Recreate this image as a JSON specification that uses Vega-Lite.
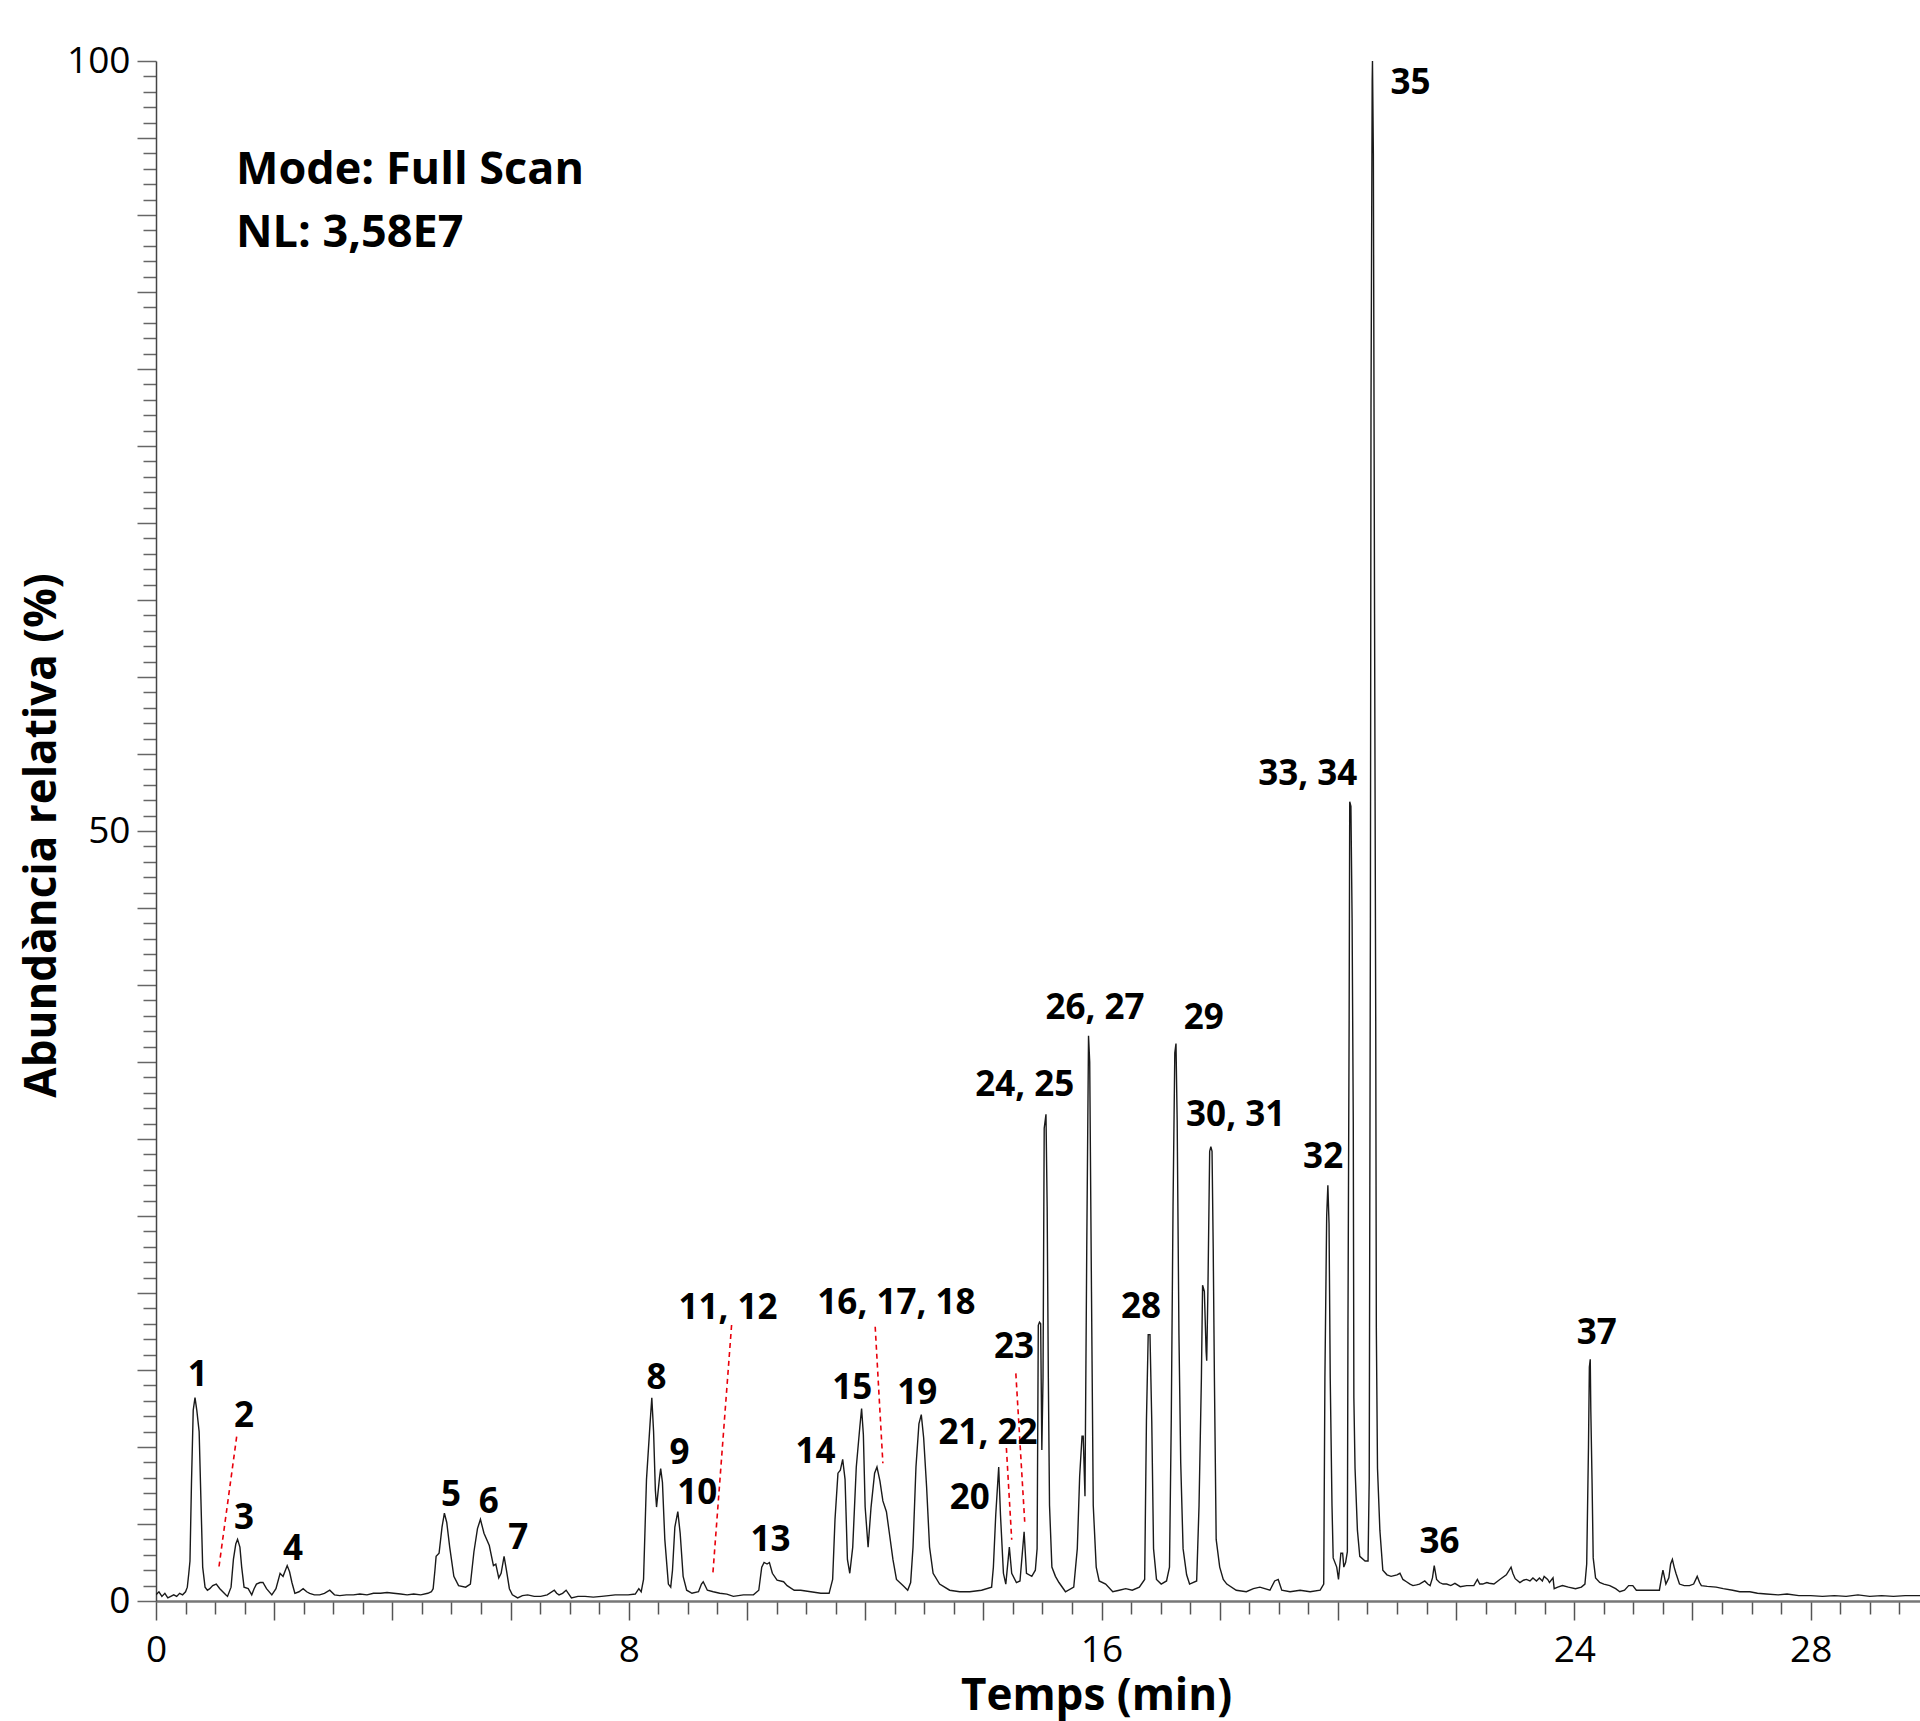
{
 "$schema": "https://vega.github.io/schema/vega-lite/v6.json",
 "width": 1764,
 "height": 1540,
 "autosize": {"type": "none"},
 "padding": {"left": 156, "top": 61, "right": 0, "bottom": 120},
 "background": "white",
 "config": {"view": {"stroke": null}},
 "datasets": {
  "trace": [
   {"t":0.00,"v":0.4},{"t":0.05,"v":0.6},{"t":0.10,"v":0.3},{"t":0.15,"v":0.5},{"t":0.20,"v":0.2},{"t":0.25,"v":0.3},{"t":0.30,"v":0.4},{"t":0.35,"v":0.3},{"t":0.40,"v":0.5},{"t":0.45,"v":0.4},{"t":0.50,"v":0.6},{"t":0.53,"v":0.9},
   {"t":0.555,"v":1.8},{"t":0.575,"v":2.6},{"t":0.60,"v":7.6},{"t":0.63,"v":12.4},{"t":0.66,"v":13.2},{"t":0.69,"v":12.4},{"t":0.73,"v":11.0},{"t":0.76,"v":6.6},{"t":0.79,"v":2.2},{"t":0.83,"v":0.9},{"t":0.87,"v":0.7},{"t":0.91,"v":0.8},{"t":0.96,"v":1.0},{"t":1.02,"v":1.1},{"t":1.08,"v":0.8},{"t":1.13,"v":0.6},{"t":1.18,"v":0.4},{"t":1.21,"v":0.3},{"t":1.27,"v":0.9},
   {"t":1.31,"v":2.7},{"t":1.35,"v":3.7},{"t":1.38,"v":4.0},{"t":1.42,"v":3.5},{"t":1.45,"v":2.2},{"t":1.49,"v":0.9},{"t":1.56,"v":0.8},{"t":1.62,"v":0.4},{"t":1.66,"v":0.8},{"t":1.70,"v":1.1},{"t":1.76,"v":1.2},{"t":1.81,"v":1.2},{"t":1.87,"v":0.8},{"t":1.96,"v":0.4},{"t":2.03,"v":0.8},
   {"t":2.10,"v":1.8},{"t":2.15,"v":1.6},{"t":2.22,"v":2.3},{"t":2.26,"v":1.9},{"t":2.30,"v":1.2},{"t":2.35,"v":0.5},{"t":2.42,"v":0.6},{"t":2.49,"v":0.8},{"t":2.55,"v":0.6},{"t":2.60,"v":0.5},{"t":2.68,"v":0.4},{"t":2.77,"v":0.4},{"t":2.85,"v":0.5},{"t":2.94,"v":0.7},{"t":3.02,"v":0.4},{"t":3.11,"v":0.35},{"t":3.22,"v":0.4},{"t":3.34,"v":0.4},{"t":3.45,"v":0.45},{"t":3.57,"v":0.4},{"t":3.68,"v":0.5},{"t":3.80,"v":0.5},{"t":3.91,"v":0.55},{"t":4.02,"v":0.5},{"t":4.14,"v":0.45},{"t":4.25,"v":0.4},{"t":4.36,"v":0.45},{"t":4.48,"v":0.4},{"t":4.60,"v":0.5},{"t":4.66,"v":0.6},
   {"t":4.69,"v":0.8},{"t":4.72,"v":2.0},{"t":4.74,"v":2.9},{"t":4.79,"v":3.1},{"t":4.84,"v":4.8},{"t":4.88,"v":5.7},{"t":4.92,"v":5.1},{"t":4.97,"v":3.5},{"t":5.04,"v":1.6},{"t":5.12,"v":1.0},{"t":5.24,"v":0.9},{"t":5.32,"v":1.1},
   {"t":5.38,"v":3.2},{"t":5.44,"v":4.7},{"t":5.49,"v":5.3},{"t":5.55,"v":4.4},{"t":5.64,"v":3.6},{"t":5.71,"v":2.3},{"t":5.75,"v":2.4},{"t":5.80,"v":1.5},{"t":5.84,"v":1.8},{"t":5.89,"v":2.9},{"t":5.93,"v":2.0},{"t":5.98,"v":0.8},{"t":6.03,"v":0.4},{"t":6.12,"v":0.2},{"t":6.20,"v":0.35},{"t":6.29,"v":0.4},{"t":6.40,"v":0.3},{"t":6.51,"v":0.3},{"t":6.62,"v":0.4},{"t":6.74,"v":0.7},{"t":6.78,"v":0.5},{"t":6.82,"v":0.4},{"t":6.88,"v":0.5},{"t":6.94,"v":0.7},{"t":7.03,"v":0.2},{"t":7.14,"v":0.3},{"t":7.26,"v":0.3},{"t":7.40,"v":0.25},{"t":7.54,"v":0.3},{"t":7.66,"v":0.35},{"t":7.77,"v":0.4},{"t":7.88,"v":0.4},{"t":7.99,"v":0.4},{"t":8.11,"v":0.45},{"t":8.17,"v":0.8},{"t":8.21,"v":0.6},
   {"t":8.25,"v":1.4},{"t":8.30,"v":7.9},{"t":8.36,"v":11.5},{"t":8.39,"v":13.2},{"t":8.42,"v":11.0},{"t":8.45,"v":7.2},{"t":8.47,"v":6.1},{"t":8.52,"v":8.0},{"t":8.54,"v":8.6},{"t":8.57,"v":7.7},{"t":8.61,"v":4.0},{"t":8.67,"v":1.1},{"t":8.71,"v":0.9},{"t":8.74,"v":2.0},{"t":8.78,"v":4.8},{"t":8.83,"v":5.8},{"t":8.87,"v":4.4},{"t":8.92,"v":1.6},{"t":8.98,"v":0.7},{"t":9.07,"v":0.5},{"t":9.18,"v":0.6},{"t":9.23,"v":1.1},{"t":9.26,"v":1.25},{"t":9.33,"v":0.7},{"t":9.43,"v":0.6},{"t":9.54,"v":0.5},{"t":9.66,"v":0.45},{"t":9.77,"v":0.3},{"t":9.94,"v":0.4},{"t":10.11,"v":0.4},{"t":10.20,"v":0.7},
   {"t":10.25,"v":2.2},{"t":10.29,"v":2.5},{"t":10.34,"v":2.4},{"t":10.38,"v":2.5},{"t":10.43,"v":1.8},{"t":10.51,"v":1.35},{"t":10.62,"v":1.25},{"t":10.68,"v":1.0},{"t":10.80,"v":0.7},{"t":10.91,"v":0.7},{"t":11.08,"v":0.6},{"t":11.25,"v":0.5},{"t":11.39,"v":0.5},{"t":11.45,"v":1.4},
   {"t":11.49,"v":5.3},{"t":11.54,"v":8.3},{"t":11.58,"v":8.5},{"t":11.62,"v":9.2},{"t":11.66,"v":7.9},{"t":11.70,"v":2.7},{"t":11.74,"v":1.8},{"t":11.79,"v":3.5},{"t":11.85,"v":8.7},{"t":11.91,"v":11.3},{"t":11.94,"v":12.5},{"t":11.97,"v":10.8},{"t":12.00,"v":6.1},{"t":12.05,"v":3.5},{"t":12.10,"v":6.1},{"t":12.16,"v":8.3},{"t":12.20,"v":8.7},{"t":12.25,"v":7.8},{"t":12.30,"v":6.5},{"t":12.36,"v":5.8},{"t":12.41,"v":4.4},{"t":12.47,"v":2.7},{"t":12.53,"v":1.4},{"t":12.64,"v":1.0},{"t":12.72,"v":0.7},{"t":12.77,"v":1.2},
   {"t":12.81,"v":3.5},{"t":12.86,"v":8.7},{"t":12.91,"v":11.5},{"t":12.95,"v":12.1},{"t":12.99,"v":10.6},{"t":13.04,"v":7.4},{"t":13.09,"v":3.5},{"t":13.15,"v":1.8},{"t":13.26,"v":1.1},{"t":13.43,"v":0.7},{"t":13.60,"v":0.6},{"t":13.77,"v":0.6},{"t":13.97,"v":0.7},{"t":14.14,"v":0.9},
   {"t":14.17,"v":2.2},{"t":14.21,"v":5.6},{"t":14.26,"v":8.7},{"t":14.29,"v":5.6},{"t":14.34,"v":1.8},{"t":14.38,"v":1.1},{"t":14.44,"v":3.5},{"t":14.48,"v":1.8},{"t":14.56,"v":1.2},{"t":14.62,"v":1.3},{"t":14.69,"v":4.5},{"t":14.73,"v":1.8},{"t":14.82,"v":1.6},{"t":14.88,"v":2.0},
   {"t":14.91,"v":3.4},{"t":14.93,"v":17.9},{"t":14.95,"v":18.1},{"t":14.97,"v":18.0},{"t":14.99,"v":9.8},{"t":15.01,"v":14.5},{"t":15.03,"v":30.7},{"t":15.06,"v":31.6},{"t":15.08,"v":25.6},{"t":15.10,"v":14.5},{"t":15.12,"v":6.2},{"t":15.16,"v":2.2},{"t":15.22,"v":1.6},{"t":15.28,"v":1.2},{"t":15.39,"v":0.6},{"t":15.53,"v":0.9},
   {"t":15.59,"v":3.4},{"t":15.63,"v":8.1},{"t":15.67,"v":10.7},{"t":15.69,"v":10.7},{"t":15.72,"v":6.8},{"t":15.75,"v":22.9},{"t":15.78,"v":36.7},{"t":15.80,"v":35.0},{"t":15.83,"v":20.1},{"t":15.86,"v":6.2},{"t":15.91,"v":2.2},{"t":15.96,"v":1.3},{"t":16.07,"v":1.1},{"t":16.19,"v":0.6},{"t":16.30,"v":0.7},{"t":16.41,"v":0.8},{"t":16.52,"v":0.7},{"t":16.64,"v":0.9},
   {"t":16.73,"v":1.4},{"t":16.76,"v":11.7},{"t":16.79,"v":17.3},{"t":16.82,"v":17.3},{"t":16.85,"v":11.7},{"t":16.88,"v":3.4},{"t":16.93,"v":1.4},{"t":17.01,"v":1.1},{"t":17.10,"v":1.3},{"t":17.15,"v":2.2},
   {"t":17.18,"v":11.7},{"t":17.21,"v":25.6},{"t":17.24,"v":35.6},{"t":17.26,"v":36.2},{"t":17.28,"v":31.2},{"t":17.31,"v":17.3},{"t":17.34,"v":9.0},{"t":17.38,"v":3.4},{"t":17.44,"v":1.7},{"t":17.49,"v":1.1},{"t":17.61,"v":1.3},
   {"t":17.65,"v":6.2},{"t":17.69,"v":14.5},{"t":17.71,"v":20.5},{"t":17.74,"v":20.1},{"t":17.77,"v":16.2},{"t":17.78,"v":15.6},{"t":17.80,"v":20.1},{"t":17.83,"v":29.2},{"t":17.85,"v":29.5},{"t":17.87,"v":29.2},{"t":17.89,"v":22.9},{"t":17.91,"v":14.5},{"t":17.94,"v":4.0},{"t":18.00,"v":2.2},{"t":18.06,"v":1.4},{"t":18.12,"v":1.1},{"t":18.28,"v":0.7},{"t":18.45,"v":0.6},{"t":18.57,"v":0.8},{"t":18.68,"v":0.9},{"t":18.85,"v":0.7},{"t":18.93,"v":1.3},{"t":18.99,"v":1.4},{"t":19.05,"v":0.7},{"t":19.19,"v":0.6},{"t":19.36,"v":0.7},{"t":19.53,"v":0.6},{"t":19.70,"v":0.7},
   {"t":19.76,"v":1.1},{"t":19.78,"v":14.5},{"t":19.81,"v":25.0},{"t":19.83,"v":27.0},{"t":19.85,"v":24.5},{"t":19.87,"v":14.5},{"t":19.90,"v":6.2},{"t":19.92,"v":2.8},{"t":19.98,"v":2.2},{"t":20.01,"v":1.4},{"t":20.05,"v":3.1},{"t":20.08,"v":3.1},{"t":20.10,"v":2.2},{"t":20.13,"v":2.5},{"t":20.16,"v":3.2},
   {"t":20.17,"v":17.8},{"t":20.19,"v":37.7},{"t":20.20,"v":51.9},{"t":20.22,"v":51.6},{"t":20.24,"v":44.3},{"t":20.26,"v":31.1},{"t":20.27,"v":13.2},{"t":20.29,"v":8.6},{"t":20.33,"v":4.6},{"t":20.37,"v":2.9},{"t":20.46,"v":2.6},{"t":20.51,"v":2.6},
   {"t":20.53,"v":7.9},{"t":20.55,"v":44.3},{"t":20.56,"v":77.5},{"t":20.58,"v":98.7},{"t":20.585,"v":100},{"t":20.60,"v":94.0},{"t":20.62,"v":64.1},{"t":20.64,"v":37.7},{"t":20.65,"v":17.8},{"t":20.67,"v":8.6},{"t":20.71,"v":4.6},{"t":20.76,"v":2.0},{"t":20.83,"v":1.7},{"t":20.90,"v":1.6},{"t":21.00,"v":1.7},
   {"t":21.05,"v":1.8},{"t":21.10,"v":1.4},{"t":21.16,"v":1.25},{"t":21.22,"v":1.1},{"t":21.27,"v":1.0},{"t":21.33,"v":1.05},{"t":21.38,"v":1.1},{"t":21.47,"v":1.3},{"t":21.52,"v":1.1},{"t":21.56,"v":1.0},{"t":21.60,"v":1.5},{"t":21.63,"v":2.3},{"t":21.67,"v":1.4},{"t":21.72,"v":1.2},{"t":21.78,"v":1.1},{"t":21.84,"v":1.1},{"t":21.91,"v":1.0},{"t":21.98,"v":1.15},{"t":22.07,"v":0.93},{"t":22.18,"v":1.0},{"t":22.30,"v":1.0},{"t":22.36,"v":1.4},{"t":22.40,"v":1.1},{"t":22.45,"v":1.1},{"t":22.52,"v":1.2},{"t":22.56,"v":1.15},{"t":22.64,"v":1.1},{"t":22.74,"v":1.4},{"t":22.85,"v":1.7},{"t":22.93,"v":2.2},{"t":22.96,"v":1.8},{"t":23.00,"v":1.45},{"t":23.08,"v":1.2},{"t":23.14,"v":1.35},{"t":23.19,"v":1.4},{"t":23.25,"v":1.3},{"t":23.30,"v":1.5},{"t":23.36,"v":1.3},{"t":23.41,"v":1.5},{"t":23.46,"v":1.3},{"t":23.49,"v":1.6},{"t":23.55,"v":1.4},{"t":23.58,"v":1.2},{"t":23.64,"v":1.5},{"t":23.66,"v":0.8},{"t":23.72,"v":0.9},{"t":23.80,"v":1.0},{"t":23.90,"v":0.9},{"t":24.02,"v":0.8},{"t":24.12,"v":0.9},{"t":24.18,"v":1.1},
   {"t":24.21,"v":2.4},{"t":24.24,"v":10.0},{"t":24.255,"v":15.2},{"t":24.27,"v":15.7},{"t":24.28,"v":12.3},{"t":24.30,"v":7.9},{"t":24.32,"v":2.8},{"t":24.36,"v":1.5},{"t":24.43,"v":1.2},{"t":24.50,"v":1.1},{"t":24.60,"v":1.0},{"t":24.70,"v":0.8},{"t":24.77,"v":0.6},{"t":24.85,"v":0.7},{"t":24.92,"v":1.0},{"t":24.99,"v":1.0},{"t":25.05,"v":0.7},{"t":25.10,"v":0.7},{"t":25.25,"v":0.7},{"t":25.44,"v":0.7},{"t":25.48,"v":1.6},{"t":25.50,"v":2.0},{"t":25.55,"v":1.1},{"t":25.60,"v":1.5},{"t":25.63,"v":2.4},{"t":25.66,"v":2.7},{"t":25.69,"v":2.2},{"t":25.72,"v":1.8},{"t":25.78,"v":1.1},{"t":25.86,"v":1.0},{"t":25.95,"v":1.0},{"t":26.02,"v":1.1},{"t":26.08,"v":1.6},{"t":26.12,"v":1.2},{"t":26.15,"v":1.0},{"t":26.25,"v":0.95},{"t":26.40,"v":0.9},{"t":26.52,"v":0.8},{"t":26.68,"v":0.7},{"t":26.80,"v":0.6},{"t":26.97,"v":0.6},{"t":27.10,"v":0.5},{"t":27.25,"v":0.45},{"t":27.45,"v":0.4},{"t":27.60,"v":0.45},{"t":27.80,"v":0.35},{"t":28.00,"v":0.35},{"t":28.20,"v":0.3},{"t":28.40,"v":0.35},{"t":28.60,"v":0.3},{"t":28.80,"v":0.4},{"t":29.00,"v":0.3},{"t":29.20,"v":0.35},{"t":29.40,"v":0.3},{"t":29.60,"v":0.35},{"t":29.85,"v":0.35}
  ],
  "labels": [
   {"t":0.705,"v":14.7,"label":"1"},{"t":1.49,"v":12.0,"label":"2"},{"t":1.49,"v":5.4,"label":"3"},{"t":2.32,"v":3.4,"label":"4"},{"t":4.99,"v":6.9,"label":"5"},{"t":5.63,"v":6.45,"label":"6"},{"t":6.13,"v":4.07,"label":"7"},{"t":8.47,"v":14.46,"label":"8"},{"t":8.86,"v":9.59,"label":"9"},{"t":9.16,"v":6.99,"label":"10"},{"t":9.68,"v":19.0,"label":"11, 12"},{"t":10.40,"v":3.96,"label":"13"},{"t":11.16,"v":9.70,"label":"14"},{"t":11.78,"v":13.81,"label":"15"},{"t":12.53,"v":19.33,"label":"16, 17, 18"},{"t":12.88,"v":13.49,"label":"19"},{"t":13.77,"v":6.67,"label":"20"},{"t":14.08,"v":10.89,"label":"21, 22"},{"t":14.52,"v":16.51,"label":"23"},{"t":14.70,"v":33.53,"label":"24, 25"},{"t":15.89,"v":38.53,"label":"26, 27"},{"t":16.67,"v":19.1,"label":"28"},{"t":17.73,"v":37.83,"label":"29"},{"t":18.27,"v":31.59,"label":"30, 31"},{"t":19.75,"v":28.81,"label":"32"},{"t":19.49,"v":53.7,"label":"33, 34"},{"t":21.23,"v":98.55,"label":"35"},{"t":21.72,"v":3.85,"label":"36"},{"t":24.38,"v":17.38,"label":"37"}
  ],
  "leaders": [
   {"t":1.365,"v":10.67,"t2":1.066,"v2":2.23},
   {"t":9.74,"v":17.92,"t2":9.42,"v2":1.62},
   {"t":12.17,"v":17.81,"t2":12.30,"v2":8.94},
   {"t":14.39,"v":9.94,"t2":14.48,"v2":3.98},
   {"t":14.55,"v":14.78,"t2":14.70,"v2":5.15}
  ],
  "notes": [
   {"t":1.354,"v":92.9,"label":"Mode: Full Scan"},
   {"t":1.354,"v":88.8,"label":"NL: 3,58E7"}
  ]
 },
 "encoding": {
  "x": {
   "field": "t", "type": "quantitative",
   "scale": {"domain": [0, 29.85], "nice": false, "zero": false},
   "axis": {
    "title": "Temps (min)",
    "values": [0,0.5,1,1.5,2,2.5,3,3.5,4,4.5,5,5.5,6,6.5,7,7.5,8,8.5,9,9.5,10,10.5,11,11.5,12,12.5,13,13.5,14,14.5,15,15.5,16,16.5,17,17.5,18,18.5,19,19.5,20,20.5,21,21.5,22,22.5,23,23.5,24,24.5,25,25.5,26,26.5,27,27.5,28,28.5,29,29.5],
    "labelExpr": "(datum.value == 0 || datum.value == 8 || datum.value == 16 || datum.value == 24 || datum.value == 28) ? ('' + datum.value) : ''",
    "tickSize": {"condition": {"test": "datum.value % 2 == 0", "value": 19}, "value": 13},
    "grid": false,
    "domainColor": "#777777", "domainWidth": 2.5,
    "tickColor": "#555555", "tickWidth": 1.5,
    "labelFont": "Open Sans", "labelFontSize": 37, "labelColor": "#000000", "labelPadding": 12,
    "labelFlush": false, "labelOverlap": false,
    "titleFont": "Open Sans", "titleFontSize": 44, "titleFontWeight": "bold", "titleColor": "#000000",
    "titleX": 940, "titleY": 108, "titleAlign": "center", "titleBaseline": "alphabetic", "titleAnchor": null
   }
  },
  "y": {
   "field": "v", "type": "quantitative",
   "scale": {"domain": [0, 100], "nice": false},
   "axis": {
    "title": "Abundància relativa (%)",
    "values": [0,1,2,3,4,5,6,7,8,9,10,11,12,13,14,15,16,17,18,19,20,21,22,23,24,25,26,27,28,29,30,31,32,33,34,35,36,37,38,39,40,41,42,43,44,45,46,47,48,49,50,51,52,53,54,55,56,57,58,59,60,61,62,63,64,65,66,67,68,69,70,71,72,73,74,75,76,77,78,79,80,81,82,83,84,85,86,87,88,89,90,91,92,93,94,95,96,97,98,99,100],
    "labelExpr": "(datum.value == 0 || datum.value == 50 || datum.value == 100) ? ('' + datum.value) : ''",
    "tickSize": {"condition": {"test": "datum.value % 5 == 0", "value": 19}, "value": 13},
    "grid": false,
    "domainColor": "#444444", "domainWidth": 1.5,
    "tickColor": "#666666", "tickWidth": 1.5,
    "labelFont": "Open Sans", "labelFontSize": 37, "labelColor": "#000000", "labelPadding": 7,
    "labelFlush": false, "labelOverlap": false,
    "titleFont": "Open Sans", "titleFontSize": 44, "titleFontWeight": "bold", "titleColor": "#000000",
    "titleAngle": -90, "titleX": -101, "titleY": 774, "titleAlign": "center", "titleBaseline": "alphabetic"
   }
  }
 },
 "layer": [
  {"data": {"name": "trace"}, "mark": {"type": "line", "color": "#1a1a1a", "strokeWidth": 1.4, "clip": true}},
  {"data": {"name": "leaders"}, "mark": {"type": "rule", "color": "#e8000b", "strokeWidth": 1.6, "strokeDash": [5, 4]}, "encoding": {"x2": {"field": "t2"}, "y2": {"field": "v2"}}},
  {"data": {"name": "labels"}, "mark": {"type": "text", "font": "Open Sans", "fontWeight": "bold", "fontSize": 35, "align": "center", "baseline": "middle", "color": "#000000"}, "encoding": {"text": {"field": "label"}}},
  {"data": {"name": "notes"}, "mark": {"type": "text", "font": "Open Sans", "fontWeight": "bold", "fontSize": 45, "align": "left", "baseline": "middle", "color": "#000000"}, "encoding": {"text": {"field": "label"}}}
 ]
}
